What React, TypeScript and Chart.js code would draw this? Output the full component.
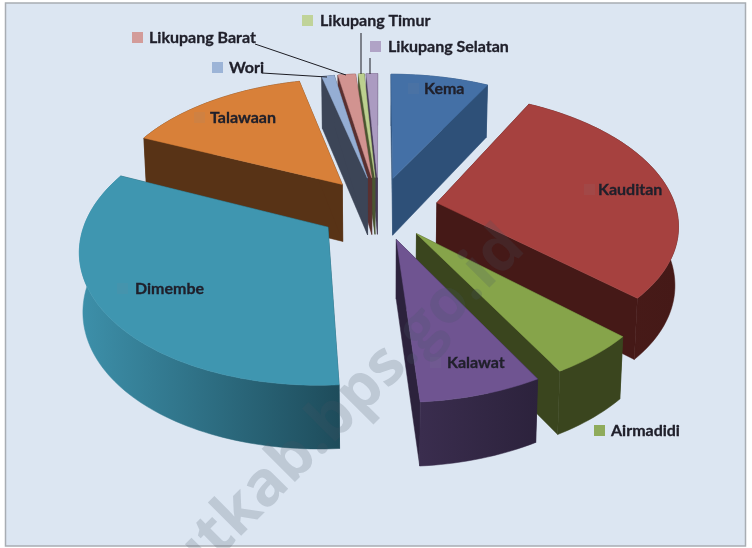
import React, { useEffect, useRef } from "react";
import { Chart, registerables } from "chart.js";

Chart.register(...registerables);

const categories = ["Kema", "Kauditan", "Airmadidi", "Kalawat", "Dimembe", "Talawaan", "Wori", "Likupang Barat", "Likupang Timur", "Likupang Selatan"];
const shares = [7.8, 29.1, 5.1, 6.9, 32.8, 14.6, 1.0, 1.4, 0.45, 0.9];
const explode = [60, 60, 60, 60, 62, 60, 60, 60, 60, 60];
const topColors = ["#4470a6", "#a6413f", "#86a44a", "#6f5491", "#3f96b0", "#d88039", "#95aed4", "#d29390", "#bcd08f", "#ab9bc1"];
const wallLeft = ["#2e5078", "#4a1c1a", "#3a451e", "#3a2d4e", "#3d90aa", "#583316", "#3c4557", "#5a3030", "#4a5530", "#453a55"];
const wallRight = ["#2e5078", "#451917", "#3a451e", "#2c223c", "#1e4c5b", "#583316", "#3c4557", "#5a3030", "#4a5530", "#453a55"];
const labelX = [424, 598, 611, 447, 135, 210, 229, 149, 320, 388];
const labelY = [89, 190, 431, 363, 289, 118, 68, 38, 21, 47];
const markerX = [408, 584, 594, 430, 117, 194, 212, 132, 302, 370];
const markerFaint = [true, true, false, true, true, true, false, false, false, false];

const leaderLines = [
  { from: [255, 44], to: [346, 75] },
  { from: [262, 73], to: [327, 77] },
  { from: [361, 33], to: [361, 74] },
  { from: [370, 58], to: [370, 74] },
];

const CX = 379, CY = 208, RX = 239, RY = 128, K = 0.15;

function project(u: number, v: number) {
  const s = 1 / (1 - K * v);
  return { x: CX + RX * u * s, y: CY + RY * v * s, v };
}
function lower(p: { x: number; y: number; v: number }) {
  return { x: p.x - 0.012 * (p.x - CX), y: p.y + 58 + 5 * p.v, v: p.v };
}
function poly(ctx: CanvasRenderingContext2D, pts: { x: number; y: number }[], fill: any) {
  ctx.beginPath();
  pts.forEach((p, i) => (i ? ctx.lineTo(p.x, p.y) : ctx.moveTo(p.x, p.y)));
  ctx.closePath();
  ctx.fillStyle = fill;
  ctx.fill();
  ctx.strokeStyle = fill;
  ctx.lineWidth = 0.5;
  ctx.stroke();
}

const pie3d = {
  id: "pie3d",
  beforeDraw(chart: any) {
    const { ctx, width, height } = chart;
    ctx.save();
    ctx.fillStyle = "#ffffff";
    ctx.fillRect(0, 0, width, height);
    ctx.fillStyle = "#dce6f2";
    ctx.fillRect(5.5, 3, 740, 543);
    ctx.strokeStyle = "#a8adb3";
    ctx.lineWidth = 1.5;
    ctx.strokeRect(5.5, 3, 740, 543);
    ctx.restore();
  },
  beforeDatasetDraw(chart: any, args: any) {
    const { ctx } = chart;
    const arcs: any[] = args.meta.data;
    const order = arcs
      .map((a, i) => ({ a, i, key: Math.sin((a.startAngle + a.endAngle) / 2) }))
      .sort((p, q) => p.key - q.key);
    ctx.save();
    for (const { a, i } of order) {
      const e = a.options.offset / a.outerRadius;
      const mid = (a.startAngle + a.endAngle) / 2;
      const ou = e * Math.cos(mid), ov = e * Math.sin(mid);
      const n = Math.max(4, Math.ceil((a.endAngle - a.startAngle) * 40));
      const rim = [];
      for (let k = 0; k <= n; k++) {
        const t = a.startAngle + ((a.endAngle - a.startAngle) * k) / n;
        rim.push(project(ou + Math.cos(t), ov + Math.sin(t)));
      }
      const apex = project(ou, ov);
      const lowRim = rim.map(lower);
      const lowApex = lower(apex);
      const minX = Math.min(...rim.map((p) => p.x));
      const maxX = Math.max(...rim.map((p) => p.x));
      const wall = ctx.createLinearGradient(minX, 0, maxX, 0);
      wall.addColorStop(0, wallLeft[i]);
      wall.addColorStop(1, wallRight[i]);
      poly(ctx, [apex, rim[0], lowRim[0], lowApex], wallRight[i]);
      poly(ctx, [apex, rim[n], lowRim[n], lowApex], wallRight[i]);
      poly(ctx, [...rim, ...lowRim.slice().reverse()], wall);
      poly(ctx, [apex, ...rim], a.options.backgroundColor);
    }
    ctx.restore();
    return false;
  },
  afterDatasetsDraw(chart: any) {
    const { ctx } = chart;
    ctx.save();
    ctx.strokeStyle = "#1d1d24";
    ctx.lineWidth = 1;
    for (const l of leaderLines) {
      ctx.beginPath();
      ctx.moveTo(l.from[0], l.from[1]);
      ctx.lineTo(l.to[0], l.to[1]);
      ctx.stroke();
    }
    ctx.textBaseline = "middle";
    ctx.textAlign = "left";
    ctx.font = "bold 16px Lato, 'Open Sans', sans-serif";
    ctx.lineWidth = 0.3;
    categories.forEach((name, i) => {
      ctx.globalAlpha = markerFaint[i] ? 0.1 : 0.9;
      ctx.fillStyle = markerFaint[i] ? "#808890" : topColors[i];
      ctx.fillRect(markerX[i], labelY[i] - 6, 11, 11);
      ctx.globalAlpha = 1;
      ctx.fillStyle = "#20202b";
      ctx.strokeStyle = "#20202b";
      ctx.fillText(name, labelX[i], labelY[i]);
      ctx.strokeText(name, labelX[i], labelY[i]);
    });
    ctx.restore();
  },
  afterDraw(chart: any) {
    const { ctx } = chart;
    ctx.save();
    ctx.translate(527, 250);
    ctx.rotate(-Math.PI / 4);
    ctx.textAlign = "right";
    ctx.textBaseline = "alphabetic";
    ctx.font = "bold 62px 'Open Sans', sans-serif";
    ctx.fillStyle = "rgba(70,85,100,0.2)";
    ctx.fillText("minutkab.bps.go.id", 0, 0);
    ctx.restore();
  },
};

export default function App() {
  const ref = useRef<HTMLCanvasElement>(null);
  useEffect(() => {
    const chart = new Chart(ref.current!, {
      type: "pie",
      data: {
        labels: categories,
        datasets: [{ data: shares, backgroundColor: topColors, offset: explode, borderWidth: 0 }],
      },
      options: {
        animation: false,
        responsive: false,
        plugins: { legend: { display: false }, tooltip: { enabled: false } },
      },
      plugins: [pie3d],
    } as any);
    return () => chart.destroy();
  }, []);
  return <canvas ref={ref} width={752} height={548} style={{ position: "fixed", left: 0, top: 0 }} />;
}
